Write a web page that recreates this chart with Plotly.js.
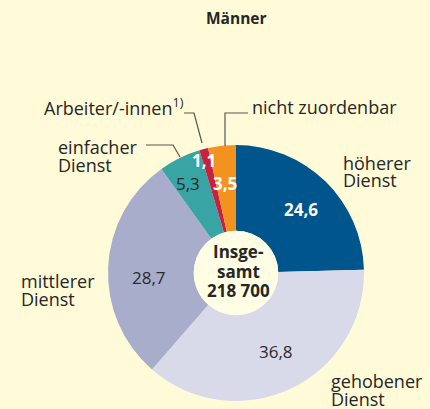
<!DOCTYPE html>
<html><head><meta charset="utf-8">
<script src="https://cdn.plot.ly/plotly-3.0.1.min.js"></script>
<style>html,body{margin:0;padding:0;background:#fffbd8;}#chart{width:430px;height:409px;}</style>
</head><body><div id="chart"></div>
<script>
const categories = ['höherer<br>Dienst','gehobener<br>Dienst','mittlerer<br>Dienst','einfacher<br>Dienst','Arbeiter/-innen<sup>1)</sup>','nicht zuordenbar'];
const values = [24.6, 36.8, 28.7, 5.3, 1.1, 3.5];
const totalLabel = 'Insge-<br>samt<br>218 700';
const title = 'Männer';

const colors = ['#00558c','#d8d9e9','#a8adcb','#38a4a4','#c8203f','#f4921f'];
const valColors = ['#ffffff','#2a2a2a','#2a2a2a','#2a2a2a','#ffffff','#ffffff'];
const valBold = [true,false,false,false,true,true];
// label positions in pixels (centre of value text; left/baseline of category label)
const valPos = [[301,209],[276,351],[149,277],[188,183],[204,160],[225,183]];
const catPos = [[341,169],[329,387],[19,287],[56,153],[42,113],[250,113]];
const W = 430, H = 409;
const px = x => x / W, py = y => 1 - y / H;
const cx = 236, cy = 273, R = 128, hole = 0.33;
const FONT = 'Open Sans, Liberation Sans, sans-serif';

const fmt = v => v.toFixed(1).replace('.', ',');
const annotations = [];
values.forEach((v, i) => {
  annotations.push({x: px(valPos[i][0]), y: py(valPos[i][1]), xref:'paper', yref:'paper',
    text: valBold[i] ? '<b>' + fmt(v) + '</b>' : fmt(v), showarrow:false,
    xanchor:'center', yanchor:'middle',
    font:{family:FONT, size:17, color:valColors[i]}});
});
categories.forEach((c, i) => {
  c.split('<br>').forEach((line, j) => {
    annotations.push({x: px(catPos[i][0]), y: py(catPos[i][1] - 6 + j * 17.5), xref:'paper', yref:'paper',
      text: line, showarrow:false, xanchor:'left', yanchor:'middle',
      font:{family:FONT, size:18, color:'#262626'}});
  });
});
totalLabel.split('<br>').forEach((line, j) => {
  annotations.push({x: px(cx + 2), y: py(252 + j * 19), xref:'paper', yref:'paper',
    text: '<b>' + line + '</b>', showarrow:false, xanchor:'center', yanchor:'middle',
    font:{family:FONT, size:17, color:'#262626'}});
});
annotations.push({x: px(cx), y: py(18), xref:'paper', yref:'paper', text:'<b>' + title + '</b>',
  showarrow:false, xanchor:'center', yanchor:'middle', font:{family:FONT, size:15.5, color:'#262626'}});

const leaderPts = [
  [[146,145],[173,145],[180,157]],
  [[184,113],[194,113],[202,143]],
  [[248,113],[225,113],[225,146]]
];
const shapes = [{type:'circle', xref:'paper', yref:'paper',
  x0: px(cx - R*hole), x1: px(cx + R*hole), y0: py(cy + R*hole), y1: py(cy - R*hole),
  fillcolor:'#fffde4', line:{width:0}, layer:'above'}];
leaderPts.forEach(pts => {
  shapes.push({type:'path', xref:'paper', yref:'paper',
    path: pts.map((p, k) => (k ? 'L' : 'M') + px(p[0]) + ',' + py(p[1])).join(' '),
    line:{color:'#555555', width:1.2}});
});

const trace = {type:'pie', labels: categories, values: values, sort:false, direction:'clockwise',
  rotation:0, hole: hole, textinfo:'none', hoverinfo:'none',
  marker:{colors: colors, line:{width:0}},
  domain:{x:[px(cx - R), px(cx + R)], y:[py(cy + R), py(cy - R)]}};

Plotly.newPlot('chart', [trace], {
  width: W, height: H, margin:{l:0,r:0,t:0,b:0}, showlegend:false,
  paper_bgcolor:'#fffbd8', plot_bgcolor:'#fffbd8',
  annotations: annotations, shapes: shapes
}, {staticPlot:true});
</script></body></html>
